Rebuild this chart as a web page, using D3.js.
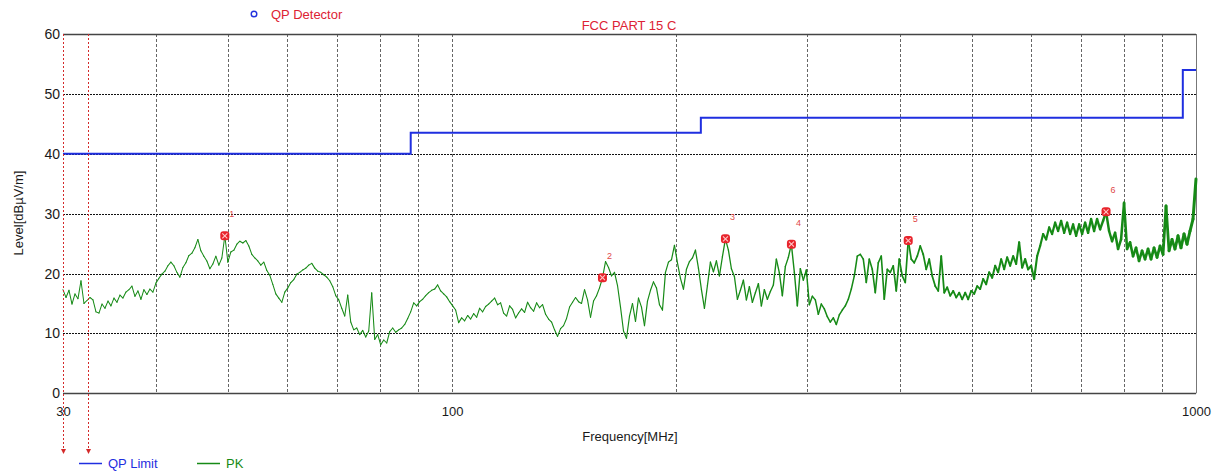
<!DOCTYPE html>
<html>
<head>
<meta charset="utf-8">
<script src="https://cdn.jsdelivr.net/npm/d3@7/dist/d3.min.js"></script>
<style>
  html, body { margin: 0; padding: 0; background: #fff; }
  svg { display: block; font-family: "Liberation Sans", Arial, sans-serif; }
</style>
</head>
<body>
<svg id="chart" width="1218" height="475"></svg>
<script>
// ---- Data ----------------------------------------------------------------
// Peak detector sweep: 379 points, log-spaced from 30 MHz to 1000 MHz
const sweepStartMHz = 30;
const sweepStopMHz = 1000;
const pkLevels = [
  17.3, 16.0, 17.2, 14.9, 16.6, 15.8, 18.8, 15.0, 15.5, 16.0,
  15.6, 13.6, 13.4, 14.9, 14.2, 15.4, 14.6, 15.9, 15.2, 16.4,
  15.9, 16.9, 17.3, 17.9, 16.2, 17.1, 15.7, 17.3, 16.5, 17.4,
  16.9, 18.4, 19.2, 19.9, 20.4, 21.3, 21.9, 21.3, 20.2, 19.4,
  21.0, 21.8, 23.0, 23.4, 24.3, 25.7, 23.8, 22.9, 22.1, 20.8,
  21.6, 22.9, 21.4, 22.6, 26.3, 21.9, 23.6, 23.9, 24.9, 25.4,
  25.1, 25.5, 24.6, 23.2, 22.6, 22.1, 21.4, 21.9, 20.5, 19.7,
  18.2, 16.6, 15.9, 15.2, 16.9, 17.6, 18.5, 19.0, 19.9, 20.2,
  20.6, 20.9, 21.4, 21.7, 20.9, 20.4, 20.2, 19.8, 19.4, 18.8,
  17.8, 16.3, 15.6, 14.2, 12.9, 16.4, 11.9, 10.6, 10.9, 9.8,
  10.5, 9.4, 10.4, 16.8, 9.0, 9.8, 8.1, 8.9, 8.4, 10.3,
  10.9, 10.2, 10.6, 10.9, 11.5, 12.5, 13.6, 15.1, 14.6, 15.3,
  15.7, 16.3, 16.8, 17.2, 17.4, 18.1, 17.1, 16.6, 16.1, 15.3,
  14.6, 13.9, 11.8, 12.6, 12.1, 13.0, 12.4, 13.3, 12.7, 14.2,
  13.6, 14.5, 14.9, 15.4, 15.9, 14.8, 15.1, 13.4, 12.9, 14.6,
  14.0, 12.6, 13.4, 14.1, 13.5, 15.2, 14.3, 13.7, 15.1, 14.3,
  14.8, 13.2, 12.4, 11.9, 10.6, 9.5, 10.8, 11.3, 12.5, 14.4,
  15.2, 16.0, 15.3, 15.0, 17.3, 15.6, 12.7, 15.4, 16.3, 17.6,
  19.3, 22.0, 21.0, 19.6, 20.2, 18.0, 14.4, 10.4, 9.2, 12.9,
  15.0, 12.0, 15.9, 14.4, 11.3, 15.4, 17.2, 18.6, 17.6, 14.8,
  13.9, 20.2, 21.9, 22.3, 24.7, 21.8, 19.2, 17.4, 20.7, 22.0,
  22.6, 23.9, 20.9, 17.3, 14.2, 18.0, 21.9, 20.3, 22.1, 19.6,
  22.8, 25.8, 23.9, 20.8, 19.5, 15.7, 17.2, 18.9, 15.6, 17.8,
  15.2, 16.8, 18.3, 14.6, 17.3, 15.7, 17.0, 18.1, 22.4, 20.1,
  16.3, 21.2, 22.7, 24.9, 20.2, 14.6, 20.8, 18.9, 20.6, 14.8,
  16.2, 15.6, 13.2, 14.9, 14.1, 12.8, 11.9, 12.6, 11.5, 13.1,
  13.9, 14.6, 15.7, 17.4, 19.6, 22.9, 23.2, 22.4, 18.5, 22.4,
  20.7, 16.8, 21.8, 22.9, 15.7, 20.7, 20.2, 21.3, 17.1, 22.4,
  19.6, 18.5, 25.5, 22.4, 21.8, 22.9, 24.6, 23.2, 20.7, 22.4,
  19.6, 17.9, 17.1, 22.9, 16.8, 17.7, 16.3, 17.1, 16.0, 16.8,
  15.7, 16.8, 15.7, 17.1, 16.6, 17.9, 17.4, 19.1, 18.2, 20.2,
  19.3, 21.3, 20.2, 22.4, 20.7, 22.7, 21.3, 22.9, 21.6, 25.2,
  21.0, 22.4, 20.7, 21.3, 19.1, 22.9, 24.6, 26.6, 25.7, 27.7,
  26.6, 28.5, 27.1, 28.8, 26.8, 28.5, 26.6, 28.2, 26.3, 28.2,
  26.6, 28.5, 26.8, 29.1, 27.1, 29.1, 27.4, 28.8, 30.3, 27.1,
  25.4, 26.8, 24.1, 25.7, 31.8, 24.1, 25.2, 22.9, 24.3, 22.1,
  23.8, 22.4, 24.1, 22.4, 24.3, 22.7, 24.6, 23.2, 31.3, 23.8,
  25.7, 24.1, 26.3, 24.3, 26.6, 24.9, 27.1, 29.1, 35.8
];

// QP limit (FCC Part 15 C, 3 m): band edges and level per band
const limitEdgesMHz = [30, 88, 216, 960, 1000];
const limitLevels = [40, 43.5, 46, 54];

// Final measurement markers
const markerIds = ["1", "2", "3", "4", "5", "6"];
const markerFreqs = [49.5, 159.3, 233.1, 285.9, 410.4, 757.0];
const markerLevels = [26.3, 19.3, 25.8, 24.9, 25.5, 30.3];

// Range cursors (start frequencies)
const cursorFreqs = [30, 32.4];

// Axis ticks
const yTicks = [0, 10, 20, 30, 40, 50, 60];
const xTickLabels = [30, 100, 1000];
const xGrid = [40, 50, 60, 70, 80, 90, 100, 200, 300, 400, 500, 600, 700, 800, 900];

// ---- Layout --------------------------------------------------------------
const svg = d3.select("#chart");
const plotL = 63, plotR = 1196, plotT = 34, plotB = 393.3;

const x = d3.scaleLog().domain([sweepStartMHz, sweepStopMHz]).range([plotL, plotR]);
const y = d3.scaleLinear().domain([0, 60]).range([plotB, plotT]);

const font = "\"Liberation Sans\", Arial, sans-serif";

// ---- Grid ----------------------------------------------------------------
const grid = svg.append("g");
grid.selectAll("line.v").data(xGrid).join("line")
  .attr("x1", d => Math.round(x(d)) + 0.5).attr("x2", d => Math.round(x(d)) + 0.5)
  .attr("y1", plotT).attr("y2", plotB)
  .attr("stroke", "#666").attr("stroke-width", 1).attr("stroke-dasharray", "3,2");
grid.selectAll("line.h").data(yTicks.filter(d => d > 0 && d < 60)).join("line")
  .attr("x1", plotL).attr("x2", plotR)
  .attr("y1", d => Math.round(y(d)) + 0.5).attr("y2", d => Math.round(y(d)) + 0.5)
  .attr("stroke", "#111").attr("stroke-width", 1).attr("stroke-dasharray", "2,1");

// Frame
svg.append("line").attr("x1", plotL).attr("x2", plotR).attr("y1", plotT + 0.5).attr("y2", plotT + 0.5)
  .attr("stroke", "#444").attr("stroke-width", 1.3);
svg.append("line").attr("x1", plotL).attr("x2", plotR).attr("y1", Math.round(plotB) + 0.5).attr("y2", Math.round(plotB) + 0.5)
  .attr("stroke", "#444").attr("stroke-width", 1.3);
svg.append("line").attr("x1", plotR + 0.5).attr("x2", plotR + 0.5).attr("y1", plotT).attr("y2", plotB)
  .attr("stroke", "#777").attr("stroke-width", 1);

// ---- Axes labels ---------------------------------------------------------
const yAxis = d3.axisLeft(y).tickValues(yTicks).tickSize(0).tickPadding(3);
const gy = svg.append("g").attr("transform", `translate(${plotL},0)`).call(yAxis);
gy.select(".domain").remove();
gy.selectAll("text").attr("font-family", font).attr("font-size", 14).attr("fill", "#1a1a1a");

const xAxis = d3.axisBottom(x).tickValues(xTickLabels).tickFormat(d3.format("d")).tickSize(0).tickPadding(13);
const gx = svg.append("g").attr("transform", `translate(0,${plotB})`).call(xAxis);
gx.select(".domain").remove();
gx.selectAll("text").attr("font-family", font).attr("font-size", 13).attr("fill", "#1a1a1a");

svg.append("text").attr("x", 630).attr("y", 441).attr("text-anchor", "middle")
  .attr("font-family", font).attr("font-size", 13).attr("fill", "#1a1a1a").text("Frequency[MHz]");
svg.append("text").attr("transform", "translate(23,213) rotate(-90)").attr("text-anchor", "middle")
  .attr("font-family", font).attr("font-size", 13).attr("fill", "#1a1a1a").text("Level[dBµV/m]");

svg.append("text").attr("x", 629).attr("y", 30).attr("text-anchor", "middle")
  .attr("font-family", font).attr("font-size", 13).attr("fill", "#dd2233").text("FCC PART 15 C");

// Detector legend
svg.append("circle").attr("cx", 254).attr("cy", 14).attr("r", 2.8)
  .attr("fill", "none").attr("stroke", "#2233dd").attr("stroke-width", 1.4);
svg.append("text").attr("x", 271).attr("y", 19)
  .attr("font-family", font).attr("font-size", 13).attr("fill", "#dd2233").text("QP Detector");

// ---- QP limit line ---------------------------------------------------------
const limitPts = [];
limitLevels.forEach((lv, k) => {
  limitPts.push([limitEdgesMHz[k], lv]);
  limitPts.push([limitEdgesMHz[k + 1], lv]);
});
svg.append("path").datum(limitPts)
  .attr("d", d3.line().x(d => x(d[0])).y(d => y(d[1])))
  .attr("fill", "none").attr("stroke", "#1f2fe0").attr("stroke-width", 2);

// ---- PK trace --------------------------------------------------------------
// The receiver steps linearly in frequency, so the trace packs more readings
// per pixel toward 1 GHz; the stroke widens with frequency to show that.
const n = pkLevels.length;
const pk = pkLevels.map((lv, i) => [sweepStartMHz * Math.pow(sweepStopMHz / sweepStartMHz, i / (n - 1)), lv]);
const pkWidth = d3.scaleLinear().domain([30, 150, 1000]).range([1.0, 1.1, 3.0]);
svg.append("g").selectAll("line").data(d3.pairs(pk)).join("line")
  .attr("x1", d => x(d[0][0])).attr("y1", d => y(d[0][1]))
  .attr("x2", d => x(d[1][0])).attr("y2", d => y(d[1][1]))
  .attr("stroke", "#168a16").attr("stroke-linecap", "round")
  .attr("stroke-width", d => pkWidth(d[0][0]));

// ---- Markers ---------------------------------------------------------------
const markers = markerIds.map((id, k) => ({ id, f: markerFreqs[k], lv: markerLevels[k] }));
const mg = svg.append("g").selectAll("g").data(markers).join("g")
  .attr("transform", d => `translate(${x(d.f)},${y(d.lv)})`);
mg.append("rect").attr("x", -4.5).attr("y", -4.5).attr("width", 9).attr("height", 9).attr("rx", 3)
  .attr("fill", "#e8242c");
mg.append("path").attr("d", "M-2.5,-2.5L2.5,2.5M-2.5,2.5L2.5,-2.5")
  .attr("stroke", "#ffc8c8").attr("stroke-width", 1.1);
mg.append("text").attr("x", 7).attr("y", -21).attr("text-anchor", "middle").attr("dominant-baseline", "middle")
  .attr("font-family", font).attr("font-size", 9).attr("fill", "#e04848").text(d => d.id);

// ---- Range cursors ---------------------------------------------------------
const cg = svg.append("g").selectAll("g").data(cursorFreqs).join("g")
  .attr("transform", d => `translate(${Math.round(x(d)) + 0.5},0)`);
cg.append("line").attr("x1", 0).attr("x2", 0).attr("y1", plotT).attr("y2", 450)
  .attr("stroke", "#d42a2a").attr("stroke-width", 1).attr("stroke-dasharray", "2,2");
cg.append("path").attr("d", "M-2.5,449L2.5,449L0,454Z").attr("fill", "#d42a2a");

// ---- Bottom legend -----------------------------------------------------------
const legend = [
  { label: "QP Limit", color: "#1f2fe0", x0: 79, tx: 108 },
  { label: "PK", color: "#168a16", x0: 197, tx: 226 }
];
const lg = svg.append("g").selectAll("g").data(legend).join("g");
lg.append("line").attr("x1", d => d.x0).attr("x2", d => d.x0 + 23).attr("y1", 463.5).attr("y2", 463.5)
  .attr("stroke", d => d.color).attr("stroke-width", 1.5);
lg.append("text").attr("x", d => d.tx).attr("y", 468)
  .attr("font-family", font).attr("font-size", 13).attr("fill", d => d.color).text(d => d.label);
</script>
</body>
</html>
